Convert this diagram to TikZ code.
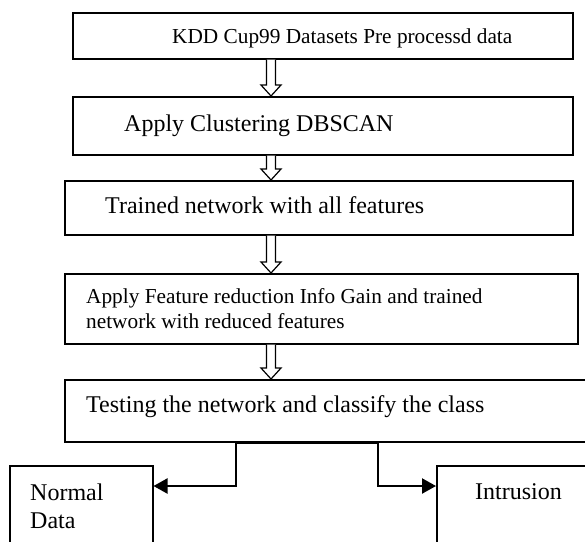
\documentclass[tikz,border=0pt]{standalone}
\usepackage{fontspec}
\setmainfont{Liberation Serif}
\usepackage{tikz}
\usetikzlibrary{arrows.meta,calc}
\tikzstyle{box}=[rectangle,draw,line width=1.5pt,inner sep=0pt,anchor=north west]
\tikzstyle{txt}=[inner sep=0pt,font=\fontsize{24}{28}\selectfont]
\tikzstyle{small}=[inner sep=0pt,font=\fontsize{21.3}{25}\selectfont]
\tikzstyle{link}=[line width=2.2pt,-{Triangle[length=14pt,width=15pt]}]
\newcommand{\blockArrow}[2]{
	\path #1 coordinate (BAa) #2 coordinate (BAb);
	\draw[line width=1.2pt,fill=white] ($(BAa)+(-4.5,0)$) -- ($(BAb)+(-4.5,-11)$) -- ($(BAb)+(-10,-11)$) -- (BAb) -- ($(BAb)+(10,-11)$) -- ($(BAb)+(4.5,-11)$) -- ($(BAa)+(4.5,0)$);
}

\begin{document}
\begin{tikzpicture}[x=1pt,y=-1pt]
	\clip (0,0) rectangle (585,541);
	\node[box,minimum width=500pt,minimum height=46pt] (kdd) at (72,12) {};
	\node[box,minimum width=500pt,minimum height=58pt] (dbscan) at (72,96) {};
	\node[box,minimum width=508pt,minimum height=54pt] (trained) at (64,180) {};
	\node[box,minimum width=513pt,minimum height=70pt] (reduce) at (64,273) {};
	\node[box,minimum width=560pt,minimum height=62pt] (test) at (64,379) {};
	\node[box,minimum width=143pt,minimum height=100pt] (normal) at (9,465) {};
	\node[box,minimum width=180pt,minimum height=100pt] (intr) at (436,465) {};
	\node[small,anchor=base west] (kddtxt) at (172,43) {KDD Cup99 Datasets Pre processd data};
	\node[txt,anchor=base west] (dbscantxt) at (124,131) {Apply Clustering DBSCAN};
	\node[txt,anchor=base west] (trainedtxt) at (105,213) {Trained network with all features};
	\node[small,anchor=west,align=left] (reducetxt) at (86,309) {Apply Feature reduction Info Gain and trained\\network with reduced features};
	\node[txt,anchor=base west] (testtxt) at (86,412) {Testing the network and classify the class};
	\node[txt,anchor=west,align=left] (normaltxt) at (30,506) {Normal\\Data};
	\node[txt,anchor=base west] (intrtxt) at (475,499) {Intrusion};
	\coordinate (col) at (271,0);
	\blockArrow{(kdd.south -| col)}{(dbscan.north -| col)}
	\blockArrow{(dbscan.south -| col)}{(trained.north -| col)}
	\blockArrow{(trained.south -| col)}{(reduce.north -| col)}
	\blockArrow{(reduce.south -| col)}{(test.north -| col)}
	\coordinate (sl) at ($(test.south west)+(172,0)$);
	\coordinate (sr) at ($(test.south west)+(314,0)$);
	\draw[link] (sl) |- ($(normal.north east)+(0,21)$);
	\draw[link] (sr) |- ($(intr.north west)+(0,21)$);
	\draw[line width=3pt] (sl) -- (sr);
\end{tikzpicture}
\end{document}
